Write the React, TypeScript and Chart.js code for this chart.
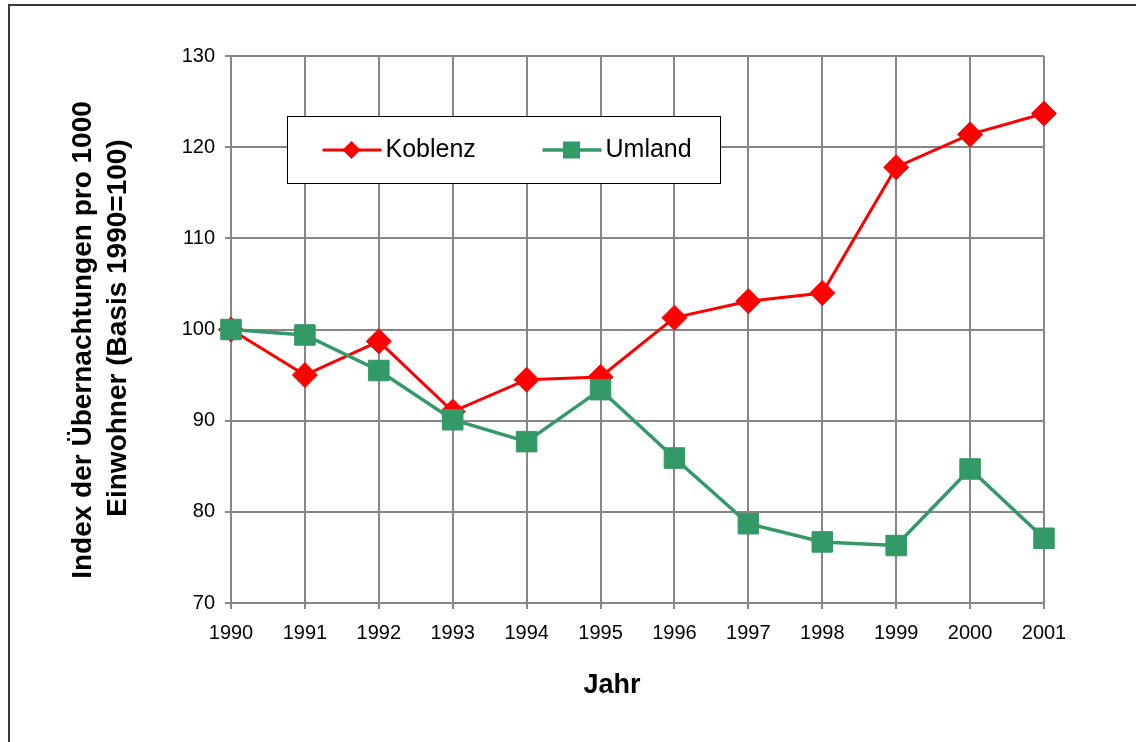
import React, { useEffect, useRef } from "react";
import { Chart, registerables } from "chart.js";

Chart.register(...registerables);

const years = ["1990", "1991", "1992", "1993", "1994", "1995", "1996", "1997", "1998", "1999", "2000", "2001"];
const koblenz = [100, 95.0, 98.7, 91.0, 94.5, 94.8, 101.3, 103.1, 104.0, 117.8, 121.4, 123.7];
const umland = [100, 99.4, 95.5, 90.1, 87.7, 93.4, 85.9, 78.7, 76.7, 76.3, 84.7, 77.1];
const yTitleLines = ["Index der Übernachtungen pro 1000", "Einwohner (Basis 1990=100)"];
const xTitle = "Jahr";
const seriesNames = ["Koblenz", "Umland"];

const RED = "#FF0000";
const GREEN = "#339966";
const GRID = "#868686";
const FONT = "'Liberation Sans', Arial, sans-serif";

const decorPlugin = {
  id: "decor",
  beforeDatasetsDraw(chart: any) {
    const ctx = chart.ctx;
    const a = chart.chartArea;
    // legend box
    const lx = a.left + 56.5;
    const ly = a.top + 60.5;
    const lw = 433;
    const lh = 67;
    ctx.save();
    ctx.fillStyle = "#ffffff";
    ctx.fillRect(lx, ly, lw, lh);
    ctx.strokeStyle = "#000000";
    ctx.lineWidth = 1;
    ctx.strokeRect(lx, ly, lw, lh);
    const cy = ly + 33.5;
    // Koblenz item
    ctx.strokeStyle = RED;
    ctx.lineWidth = 3;
    ctx.beginPath();
    ctx.moveTo(lx + 35, cy);
    ctx.lineTo(lx + 94, cy);
    ctx.stroke();
    ctx.fillStyle = RED;
    const dx = lx + 64;
    ctx.beginPath();
    ctx.moveTo(dx - 9, cy);
    ctx.lineTo(dx, cy - 9);
    ctx.lineTo(dx + 9, cy);
    ctx.lineTo(dx, cy + 9);
    ctx.closePath();
    ctx.fill();
    ctx.fillStyle = "#000000";
    ctx.font = `25px ${FONT}`;
    ctx.textBaseline = "middle";
    ctx.textAlign = "left";
    ctx.fillText(seriesNames[0], lx + 98, cy);
    // Umland item
    ctx.strokeStyle = GREEN;
    ctx.lineWidth = 3.5;
    ctx.beginPath();
    ctx.moveTo(lx + 255, cy);
    ctx.lineTo(lx + 314, cy);
    ctx.stroke();
    ctx.fillStyle = GREEN;
    ctx.fillRect(lx + 284 - 8.5, cy - 8.5, 17, 17);
    ctx.fillStyle = "#000000";
    ctx.fillText(seriesNames[1], lx + 318, cy);
    ctx.restore();
  },
  afterDraw(chart: any) {
    const ctx = chart.ctx;
    ctx.save();
    // outer frame
    ctx.strokeStyle = "#3a3a3a";
    ctx.lineWidth = 2;
    ctx.strokeRect(9, 5, 1400, 1000);
    // y title
    ctx.fillStyle = "#000000";
    ctx.font = `bold 28px ${FONT}`;
    ctx.textAlign = "center";
    ctx.textBaseline = "middle";
    ctx.save();
    ctx.translate(83, 340);
    ctx.rotate(-Math.PI / 2);
    ctx.fillText(yTitleLines[0], 0, 0);
    ctx.restore();
    ctx.save();
    ctx.translate(118, 328);
    ctx.rotate(-Math.PI / 2);
    ctx.fillText(yTitleLines[1], 0, 0);
    ctx.restore();
    // x title
    ctx.font = `bold 27px ${FONT}`;
    ctx.fillText(xTitle, 612, 686);
    ctx.restore();
  },
};

export default function App() {
  const ref = useRef<HTMLCanvasElement | null>(null);
  useEffect(() => {
    if (!ref.current) return;
    Chart.defaults.font.family = FONT;
    const chart = new Chart(ref.current, {
      type: "line",
      data: {
        labels: years,
        datasets: [
          {
            label: seriesNames[0],
            data: koblenz,
            borderColor: RED,
            backgroundColor: RED,
            borderWidth: 3,
            pointStyle: "rectRot",
            pointRadius: 12.5,
            pointBorderWidth: 1,
            pointBorderColor: RED,
            pointBackgroundColor: RED,
            tension: 0,
            order: 2,
          },
          {
            label: seriesNames[1],
            data: umland,
            borderColor: GREEN,
            backgroundColor: GREEN,
            borderWidth: 3.5,
            pointStyle: "rect",
            pointRadius: 14.5,
            pointBorderWidth: 1,
            pointBorderColor: GREEN,
            pointBackgroundColor: GREEN,
            tension: 0,
            order: 1,
          },
        ],
      },
      options: {
        animation: false,
        responsive: false,
        maintainAspectRatio: false,
        layout: { padding: { left: 0, top: 56, right: 92, bottom: 0 } },
        plugins: {
          legend: { display: false },
          tooltip: { enabled: false },
          title: { display: false },
        },
        scales: {
          x: {
            type: "category",
            offset: false,
            grid: { color: GRID, lineWidth: 2, tickLength: 6, drawTicks: true, tickColor: GRID },
            border: { display: true, color: GRID, width: 2 },
            ticks: { color: "#000000", font: { size: 20, family: FONT }, maxRotation: 0, autoSkip: false, padding: 12 },
            afterFit: (s: any) => {
              s.height = 139;
            },
          },
          y: {
            min: 70,
            max: 130,
            grid: { color: GRID, lineWidth: 2, tickLength: 6, drawTicks: true, tickColor: GRID },
            border: { display: true, color: GRID, width: 2 },
            ticks: { stepSize: 10, color: "#000000", font: { size: 20, family: FONT }, padding: 10 },
            afterFit: (s: any) => {
              s.width = 231;
            },
          },
        },
      },
      plugins: [decorPlugin],
    });
    return () => chart.destroy();
  }, []);
  return (
    <div style={{ position: "absolute", left: 0, top: 0, width: 1136, height: 742, background: "#fff" }}>
      <canvas ref={ref} width={1136} height={742} style={{ display: "block", width: 1136, height: 742 }} />
    </div>
  );
}
